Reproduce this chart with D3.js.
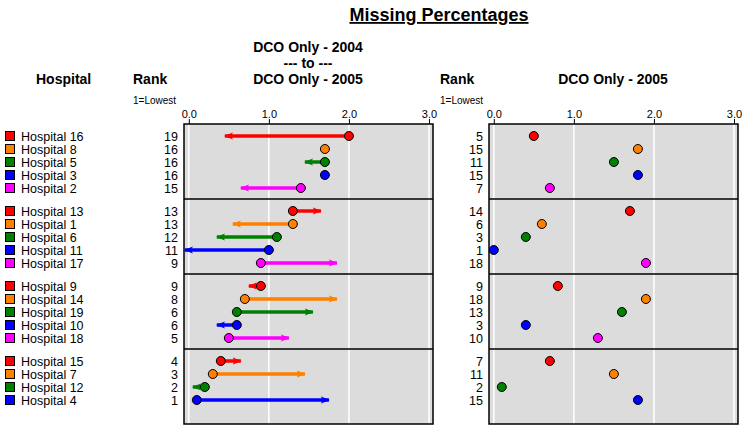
<!DOCTYPE html>
<html>
<head>
<meta charset="utf-8">
<script src="https://cdn.jsdelivr.net/npm/d3@7"></script>
<style>
  body { margin: 0; background: #fff; }
  text { font-family: Arial, "Liberation Sans", sans-serif; }
</style>
</head>
<body>
<div id="chart"></div>
<script>
const HOSPITALS = [
   "Hospital 16", "Hospital 8", "Hospital 5", "Hospital 3", "Hospital 2",
   "Hospital 13", "Hospital 1", "Hospital 6", "Hospital 11", "Hospital 17",
   "Hospital 9", "Hospital 14", "Hospital 19", "Hospital 10", "Hospital 18",
   "Hospital 15", "Hospital 7", "Hospital 12", "Hospital 4"
];
const GROUP = [0, 0, 0, 0, 0, 1, 1, 1, 1, 1, 2, 2, 2, 2, 2, 3, 3, 3, 3];
const PCT_2004 = [2.0, 1.7, 1.7, 1.7, 1.4, 1.3, 1.3, 1.1, 1.0, 0.9, 0.9, 0.7, 0.6, 0.6, 0.5, 0.4, 0.3, 0.2, 0.1];
const PCT_2005 = [0.5, 1.8, 1.5, 1.8, 0.7, 1.7, 0.6, 0.4, 0.0, 1.9, 0.8, 1.9, 1.6, 0.4, 1.3, 0.7, 1.5, 0.1, 1.8];
const RANK_2004 = [19, 16, 16, 16, 15, 13, 13, 12, 11, 9, 9, 8, 6, 6, 5, 4, 3, 2, 1];
const RANK_2005 = [5, 15, 11, 15, 7, 14, 6, 3, 1, 18, 9, 18, 13, 3, 10, 7, 11, 2, 15];
const COLORS = ["#ff0000", "#ff8000", "#008000", "#0000ff", "#ff00ff"];
const TICKS = [0, 1, 2, 3];

const WIDTH = 744;
const HEIGHT = 425;
const PANEL_TOP = 124;
const PANEL_BOTTOM = 424;
const ROW_STEP = 13;
const FIRST_ROW = 12;
const TIP_SHIFT = 4; // arrow heads sit a few px left of the value in the original

const rows = HOSPITALS.map((name, i) => {
   const g = GROUP[i];
   const pos = i - GROUP.indexOf(g);
   return {
      name, g, pos,
      color: COLORS[pos],
      v04: PCT_2004[i], v05: PCT_2005[i],
      r04: RANK_2004[i], r05: RANK_2005[i]
   };
});

const svg = d3.select("#chart").append("svg")
   .attr("width", WIDTH)
   .attr("height", HEIGHT);

const yGroup = d3.scaleLinear().domain([0, 4]).range([PANEL_TOP, PANEL_BOTTOM]);
const yRow = d => yGroup(d.g) + FIRST_ROW + d.pos * ROW_STEP;

const xLeft = d3.scaleLinear().domain([-0.06, 3.05]).range([184, 433]);
const xRight = d3.scaleLinear().domain([-0.06, 3.05]).range([489, 738]);

// title + headers
svg.append("text")
   .attr("x", 439).attr("y", 21)
   .attr("text-anchor", "middle")
   .attr("font-size", "18px").attr("font-weight", "bold")
   .attr("text-decoration", "underline")
   .text("Missing Percentages");

const header = (x, y, txt, anchor) => svg.append("text")
   .attr("x", x).attr("y", y)
   .attr("text-anchor", anchor || "start")
   .attr("font-size", "14px").attr("font-weight", "bold")
   .text(txt);
header(308, 52, "DCO Only - 2004", "middle");
header(308, 68, "--- to ---", "middle");
header(308, 84, "DCO Only - 2005", "middle");
header(613, 84, "DCO Only - 2005", "middle");
header(36, 84, "Hospital");
header(133, 84, "Rank");
header(440, 84, "Rank");

svg.selectAll(".lowest")
   .data([133, 440])
   .join("text")
   .attr("x", d => d).attr("y", 104)
   .attr("font-size", "10px")
   .text("1=Lowest");

// panels
const drawPanel = (x) => {
   const g = svg.append("g");
   g.append("rect")
      .attr("x", x.range()[0]).attr("y", PANEL_TOP)
      .attr("width", x.range()[1] - x.range()[0])
      .attr("height", PANEL_BOTTOM - PANEL_TOP)
      .attr("fill", "#dcdcdc");
   g.selectAll(".grid")
      .data(TICKS)
      .join("line")
      .attr("x1", d => x(d)).attr("x2", d => x(d))
      .attr("y1", PANEL_TOP).attr("y2", PANEL_BOTTOM)
      .attr("stroke", "#fff").attr("stroke-width", 1.5);
   g.selectAll(".sep")
      .data([1, 2, 3])
      .join("line")
      .attr("x1", x.range()[0]).attr("x2", x.range()[1])
      .attr("y1", d => yGroup(d)).attr("y2", d => yGroup(d))
      .attr("stroke", "#000").attr("stroke-width", 1.5);
   g.append("rect")
      .attr("x", x.range()[0]).attr("y", PANEL_TOP)
      .attr("width", x.range()[1] - x.range()[0])
      .attr("height", PANEL_BOTTOM - PANEL_TOP)
      .attr("fill", "none").attr("stroke", "#000").attr("stroke-width", 1.5);
   const axis = svg.append("g")
      .attr("transform", `translate(0,${PANEL_TOP})`)
      .call(d3.axisTop(x).tickValues(TICKS).tickFormat(d3.format(".1f")).tickSize(5).tickPadding(1).tickSizeOuter(0));
   axis.select(".domain").remove();
   axis.selectAll("text").attr("font-size", "11px").attr("font-family", "Arial, 'Liberation Sans', sans-serif").attr("fill", "#000");
   axis.selectAll("line").attr("stroke", "#000");
   return g;
};
drawPanel(xLeft);
drawPanel(xRight);

// arrow markers
const defs = svg.append("defs");
COLORS.forEach((c, i) => {
   defs.append("marker")
      .attr("id", "arrow" + i)
      .attr("markerUnits", "userSpaceOnUse")
      .attr("viewBox", "0 -5 10 10")
      .attr("refX", 9).attr("refY", 0)
      .attr("markerWidth", 9).attr("markerHeight", 9)
      .attr("orient", "auto")
      .append("path")
      .attr("d", "M0,-4L10,0L0,4L2,0Z")
      .attr("fill", c);
});

// hospital labels
svg.selectAll(".key")
   .data(rows)
   .join("rect")
   .attr("x", 5.5).attr("y", d => yRow(d) - 4.5)
   .attr("width", 9).attr("height", 9)
   .attr("fill", d => d.color)
   .attr("stroke", "#000");
svg.selectAll(".hname")
   .data(rows)
   .join("text")
   .attr("x", 21).attr("y", d => yRow(d) + 4.5)
   .attr("font-size", "12.5px")
   .text(d => d.name);
svg.selectAll(".rank04")
   .data(rows)
   .join("text")
   .attr("x", 178).attr("y", d => yRow(d) + 4.5)
   .attr("text-anchor", "end")
   .attr("font-size", "12.5px")
   .text(d => d.r04);
svg.selectAll(".rank05")
   .data(rows)
   .join("text")
   .attr("x", 483).attr("y", d => yRow(d) + 4.5)
   .attr("text-anchor", "end")
   .attr("font-size", "12.5px")
   .text(d => d.r05);

// change arrows (short ones end up hidden under the dot)
svg.selectAll(".change")
   .data(rows.filter(d => d.v05 !== d.v04))
   .join("line")
   .attr("x1", d => xLeft(d.v04)).attr("x2", d => xLeft(d.v05) - TIP_SHIFT)
   .attr("y1", yRow).attr("y2", yRow)
   .attr("stroke", d => d.color)
   .attr("stroke-width", 3.5)
   .attr("marker-end", d => `url(#arrow${d.pos})`);

svg.selectAll(".dot04")
   .data(rows)
   .join("circle")
   .attr("cx", d => xLeft(d.v04)).attr("cy", yRow)
   .attr("r", 4.5)
   .attr("fill", d => d.color)
   .attr("stroke", "#000").attr("stroke-width", 1);

svg.selectAll(".dot05")
   .data(rows)
   .join("circle")
   .attr("cx", d => xRight(d.v05)).attr("cy", yRow)
   .attr("r", 4.5)
   .attr("fill", d => d.color)
   .attr("stroke", "#000").attr("stroke-width", 1);
</script>
</body>
</html>
